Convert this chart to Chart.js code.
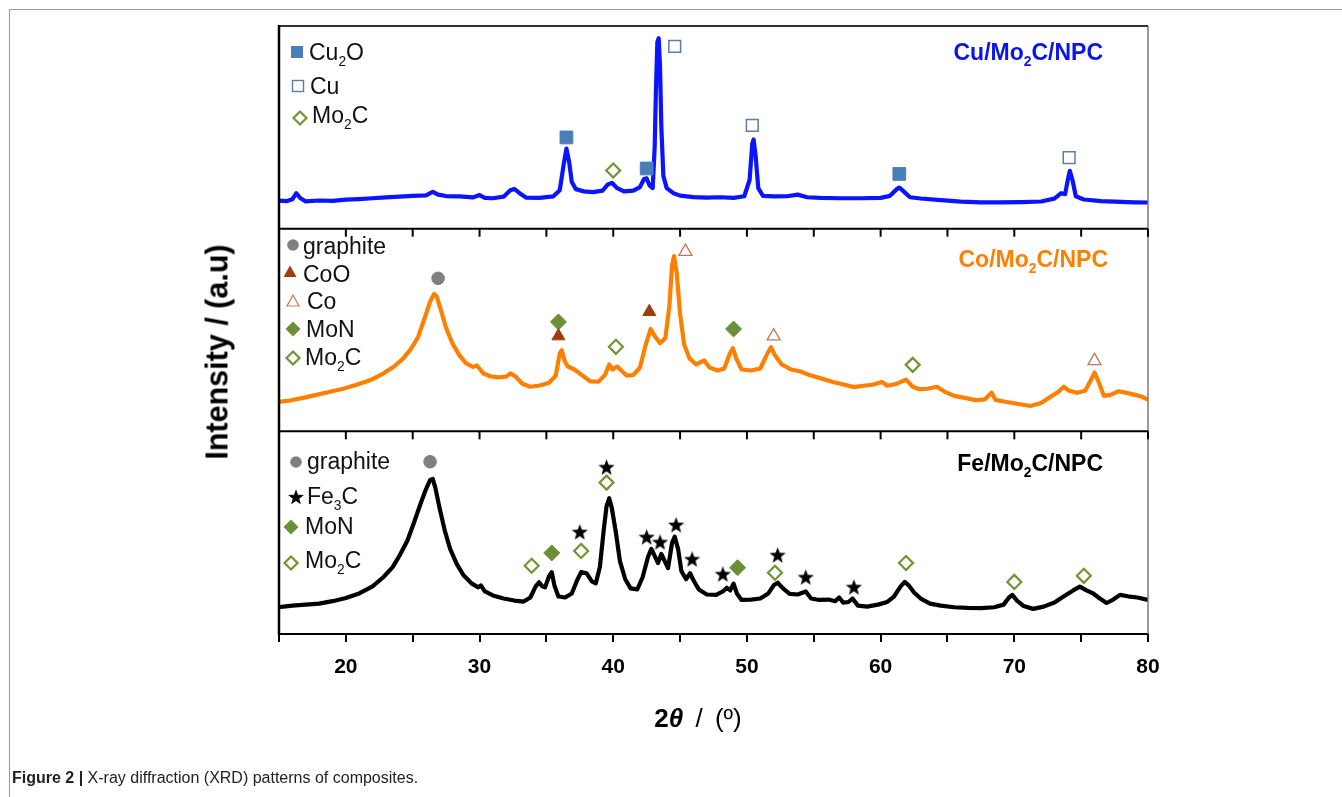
<!DOCTYPE html>
<html>
<head>
<meta charset="utf-8">
<script src="https://cdn.jsdelivr.net/npm/chart.js@4.4.1/dist/chart.umd.min.js"></script>
<style>
  html, body { margin: 0; padding: 0; background: #fff; }
  body { width: 1342px; height: 797px; position: relative; overflow: hidden; font-family: 'Liberation Sans', Arial, sans-serif; }
  #frame { position: absolute; left: 9px; top: 9px; width: 1340px; height: 800px; border-top: 1.5px solid #9a9a9a; border-left: 1.5px solid #9a9a9a; }
  #xrd { position: absolute; left: 0; top: 0; }
  .lbl { position: absolute; white-space: nowrap; font-size: 23px; line-height: 24px; color: #111; }
  .lbl sub, .sample sub { font-size: 0.6em; vertical-align: -0.4em; line-height: 0; }
  .sample { position: absolute; white-space: nowrap; font-size: 23px; line-height: 24px; font-weight: bold; }
  .mk { position: absolute; }
  #ytitle { position: absolute; left: 217px; top: 352px; transform: translate(-50%, -50%) rotate(-90deg); font-size: 30.5px; font-weight: bold; white-space: nowrap; color: #000; }
  #xtitle { position: absolute; left: 698px; top: 718px; transform: translate(-50%, -50%); font-size: 26px; white-space: nowrap; word-spacing: 5px; color: #000; }
  #caption { position: absolute; left: 12px; top: 768px; font-size: 16px; line-height: 20px; white-space: nowrap; color: #222; }
</style>
</head>
<body>
<div id="frame"></div>
<canvas id="xrd" width="1342" height="797"></canvas>
<div id="ytitle">Intensity / (a.u)</div>
<div id="xtitle"><b>2</b><b><i>θ</i></b> / (º)</div>
<div id="caption"><b>Figure 2 |</b> X-ray diffraction (XRD) patterns of composites.</div>
<div id="overlay"></div>
<script>
// x axis range and tick labels
const xMin = 15, xMax = 80, xStep = 5;
const xTickLabels = [20, 30, 40, 50, 60, 70, 80];

// Cu/Mo2C/NPC pattern
const cuAngle = [15.0, 15.6, 16.0, 16.3, 16.6, 17.0, 18.0, 19.0, 20.0, 21.0, 22.0, 23.0, 24.0, 25.0, 26.0, 26.5, 26.9, 27.5, 28.5, 29.5,
  30.0, 30.4, 31.0, 31.8, 32.3, 32.6, 33.0, 33.5, 34.5, 35.5, 36.0, 36.3, 36.5, 36.7, 36.9, 37.2, 37.8, 38.5, 39.2, 39.6,
  39.9, 40.3, 40.8, 41.5, 42.0, 42.3, 42.5, 42.7, 42.95, 43.1, 43.2, 43.3, 43.4, 43.5, 43.6, 43.75, 44.0, 44.5, 45.0, 46.0,
  47.0, 48.0, 49.0, 49.8, 50.2, 50.4, 50.5, 50.65, 50.85, 51.2, 52.0, 53.0, 53.8, 54.5, 55.5, 57.0, 58.5, 60.0, 60.7, 61.2,
  61.4, 61.7, 62.2, 63.0, 64.5, 66.0, 67.5, 69.0, 70.5, 72.0, 73.0, 73.5, 73.8, 74.0, 74.15, 74.35, 74.6, 75.2, 76.5, 78.0, 79.0, 80.0];
const cuIntensity = [13.8, 13.6, 14.5, 17.5, 15.0, 13.5, 13.9, 13.7, 14.3, 14.6, 15.0, 15.4, 15.8, 16.2, 16.4, 18.2, 16.8, 16.1, 15.9, 15.4,
  16.6, 15.2, 15.0, 15.8, 19.0, 19.6, 17.5, 15.3, 15.2, 15.9, 19.0, 32.0, 39.5, 33.0, 23.0, 19.5, 18.4, 18.0, 18.8, 21.8,
  22.6, 20.0, 18.4, 18.8, 20.5, 24.5, 24.8, 21.5, 20.0, 40.0, 70.0, 92.0, 94.0, 80.0, 50.0, 26.0, 20.0, 17.5, 16.3, 15.6,
  15.3, 15.5, 15.2, 16.0, 24.0, 42.0, 44.0, 36.0, 20.0, 16.2, 15.9, 16.0, 16.8, 15.5, 15.2, 15.0, 15.0, 15.2, 16.2, 19.5,
  20.3, 18.5, 15.5, 14.9, 14.1, 13.3, 13.0, 13.0, 13.1, 13.4, 14.8, 17.5, 17.0, 24.0, 28.5, 24.0, 16.0, 14.4, 13.6, 13.2, 13.0, 12.9];

// Co/Mo2C/NPC pattern
const coAngle = [15.0, 15.8, 16.8, 17.8, 18.8, 19.8, 20.8, 21.8, 22.8, 23.6, 24.3, 24.9, 25.4, 25.9, 26.3, 26.6, 26.8, 27.1, 27.5, 28.0,
  28.5, 29.0, 29.5, 29.8, 30.3, 30.8, 31.4, 32.0, 32.3, 32.7, 33.2, 33.8, 34.5, 35.2, 35.7, 36.0, 36.15, 36.35, 36.6, 37.1,
  37.7, 38.3, 38.9, 39.4, 39.7, 39.95, 40.3, 40.6, 41.0, 41.5, 42.0, 42.4, 42.8, 43.1, 43.5, 43.9, 44.2, 44.4, 44.55, 44.75,
  45.0, 45.3, 45.7, 46.2, 46.8, 47.2, 47.8, 48.3, 48.7, 48.95, 49.2, 49.6, 50.3, 51.0, 51.5, 51.8, 52.1, 52.6, 53.3, 54.0,
  54.8, 55.6, 56.5, 57.3, 58.0, 58.7, 59.4, 60.1, 60.5, 61.2, 61.9, 62.4, 62.9, 63.5, 64.2, 64.8, 65.5, 66.3, 67.1, 67.8,
  68.3, 68.6, 69.4, 70.3, 71.2, 72.0, 72.7, 73.3, 73.7, 74.1, 74.7, 75.3, 75.7, 76.0, 76.3, 76.7, 77.2, 77.8, 78.4, 79.0, 79.5, 80.0];
const coIntensity = [14.5, 15.2, 16.5, 18.0, 19.5, 21.0, 23.0, 25.2, 28.5, 32.0, 36.0, 41.0, 46.5, 56.0, 64.0, 67.8, 66.5, 60.0, 51.0, 43.0,
  37.5, 33.5, 31.8, 32.5, 28.5, 27.2, 26.6, 27.0, 28.6, 27.0, 23.5, 22.0, 22.6, 24.0, 27.5, 38.5, 40.0, 35.0, 32.0, 30.5,
  27.5, 24.6, 24.5, 28.0, 33.0, 30.5, 32.0, 30.0, 27.5, 27.8, 31.5, 42.0, 50.5, 47.0, 43.5, 46.0, 62.0, 82.0, 86.5, 78.0,
  58.0, 43.0, 36.0, 33.0, 35.0, 31.5, 30.0, 31.0, 38.0, 41.0, 36.0, 30.5, 30.0, 31.0, 38.0, 41.5, 37.5, 33.0, 30.5, 29.5,
  27.5, 26.0, 24.2, 23.0, 21.8, 22.5, 23.0, 24.3, 22.5, 23.5, 25.5, 22.0, 20.8, 21.0, 22.0, 19.5, 17.5, 16.5, 15.4, 15.8,
  19.0, 15.5, 14.5, 13.5, 12.5, 14.0, 17.0, 19.5, 22.0, 20.0, 19.0, 20.0, 25.0, 29.0, 24.5, 17.5, 18.0, 19.8, 19.0, 18.0, 17.2, 15.7];

// Fe/Mo2C/NPC pattern
const feAngle = [15.0, 16.0, 17.0, 18.0, 19.0, 20.0, 21.0, 22.0, 22.8, 23.5, 24.0, 24.6, 25.1, 25.6, 26.0, 26.3, 26.5, 26.7, 27.0, 27.4,
  27.8, 28.3, 28.8, 29.4, 29.9, 30.1, 30.4, 31.0, 31.8, 32.6, 33.3, 33.8, 34.2, 34.45, 34.7, 34.9, 35.2, 35.4, 35.6, 35.9,
  36.4, 36.9, 37.3, 37.6, 38.0, 38.4, 38.7, 39.0, 39.3, 39.5, 39.7, 39.9, 40.2, 40.5, 40.9, 41.3, 41.8, 42.2, 42.6, 42.85,
  43.1, 43.35, 43.6, 43.85, 44.1, 44.4, 44.6, 44.85, 45.1, 45.45, 45.75, 46.0, 46.4, 47.0, 47.7, 48.2, 48.5, 48.75, 49.0, 49.25,
  49.6, 50.3, 51.0, 51.6, 52.0, 52.3, 52.7, 53.2, 53.8, 54.4, 54.8, 55.4, 56.1, 56.6, 56.9, 57.2, 57.6, 57.9, 58.3, 59.0,
  59.8, 60.5, 61.0, 61.5, 61.8, 62.1, 62.5, 63.0, 63.7, 64.5, 65.5, 66.5, 67.5, 68.5, 69.2, 69.6, 69.85, 70.2, 70.7, 71.4,
  72.2, 73.0, 73.8, 74.4, 74.9, 75.4, 75.9, 76.4, 76.9, 77.4, 77.9, 78.5, 79.2, 80.0];
const feIntensity = [13.3, 14.0, 14.5, 15.0, 16.2, 17.8, 20.0, 23.5, 28.0, 33.0, 38.5, 46.0, 55.0, 64.5, 71.5, 76.0, 76.5, 72.0, 62.5, 51.0,
  42.0, 34.5, 29.0, 25.0, 23.0, 24.0, 21.0, 19.0, 17.5, 16.5, 16.0, 18.0, 23.5, 25.5, 23.5, 23.0, 28.5, 30.5, 24.0, 18.5,
  18.0, 20.0, 26.5, 30.5, 30.0, 26.0, 25.0, 33.0, 52.0, 63.0, 67.0, 62.0, 50.0, 36.0, 27.0, 22.5, 22.0, 28.0, 38.0, 42.0,
  38.5, 35.0, 39.5, 36.0, 32.5, 45.0, 48.0, 42.0, 31.0, 27.0, 30.0, 26.5, 22.0, 19.5, 19.3, 21.0, 22.8, 21.5, 24.8, 20.0,
  16.8, 17.0, 17.5, 20.0, 24.0, 25.3, 22.5, 19.8, 19.5, 21.0, 17.5, 16.8, 17.0, 16.2, 18.0, 15.5, 15.8, 17.5, 14.0, 13.5,
  14.5, 15.8, 18.5, 23.5, 25.7, 24.0, 20.5, 17.5, 15.0, 14.0, 13.2, 12.9, 12.8, 13.2, 14.5, 18.0, 19.3, 16.5, 13.8, 12.4,
  13.5, 15.5, 19.0, 21.5, 23.4, 21.5, 20.0, 17.5, 15.3, 17.0, 19.3, 18.6, 18.0, 16.8];

// phase markers: [2theta, height in panel units]
const cuMarksCu2O = [[36.5, 45], [42.5, 29.7], [61.4, 27]];
const cuMarksCu = [[44.6, 90], [50.4, 51], [74.1, 35]];
const cuMarksMo2C = [[40.0, 28.7]];

const coMarksGraphite = [[26.9, 75.5]];
const coMarksCoO = [[35.9, 47], [42.7, 59]];
const coMarksCo = [[45.4, 88.7], [52.0, 47], [76.0, 34.8]];
const coMarksMoN = [[35.9, 54], [49.0, 50.5]];
const coMarksMo2C = [[40.2, 41.7], [62.4, 32.8]];

const feMarksGraphite = [[26.3, 85]];
const feMarksFe3C = [[39.5, 82], [37.5, 50], [42.5, 47.5], [43.5, 45], [44.7, 53.5], [45.9, 36.6], [48.2, 29.2], [52.3, 38.6], [54.4, 27.7], [58.0, 22.8]];
const feMarksMoN = [[35.4, 40], [49.3, 32.7]];
const feMarksMo2C = [[39.5, 74.7], [33.9, 33.7], [37.6, 41], [52.1, 30.2], [61.9, 35], [70.0, 25.7], [75.2, 28.7]];

// filled five point star used for Fe3C
function makeStar(size, color) {
    const c = document.createElement('canvas');
    c.width = size; c.height = size;
    const g = c.getContext('2d');
    const r1 = size / 2, r2 = size * 0.21;
    g.beginPath();
    for (let i = 0; i < 10; i++) {
        const r = i % 2 ? r2 : r1;
        const a = -Math.PI / 2 + i * Math.PI / 5;
        g.lineTo(size / 2 + r * Math.cos(a), size / 2 + r * Math.sin(a));
    }
    g.closePath();
    g.fillStyle = color;
    g.fill();
    return c;
}

const phaseStyle = {
    Cu2O: { pointStyle: 'rect', pointRadius: 9, pointBackgroundColor: '#4a7ebb', pointBorderColor: '#4a7ebb', pointBorderWidth: 1 },
    Cu: { pointStyle: 'rect', pointRadius: 8.3, pointBackgroundColor: '#fff', pointBorderColor: '#5d7ca6', pointBorderWidth: 1.5 },
    Mo2C: { pointStyle: 'rectRot', pointRadius: 7, pointBackgroundColor: '#fff', pointBorderColor: '#6f9535', pointBorderWidth: 2.2 },
    MoN: { pointStyle: 'rectRot', pointRadius: 8, pointBackgroundColor: '#6b8f36', pointBorderColor: '#6b8f36', pointBorderWidth: 1 },
    graphite: { pointStyle: 'circle', pointRadius: 6.3, pointBackgroundColor: '#808080', pointBorderColor: '#808080', pointBorderWidth: 1 },
    CoO: { pointStyle: 'triangle', pointRadius: 7.5, pointBackgroundColor: '#9c3f0c', pointBorderColor: '#9c3f0c', pointBorderWidth: 1 },
    Co: { pointStyle: 'triangle', pointRadius: 7.5, pointBackgroundColor: '#fff', pointBorderColor: '#c07a55', pointBorderWidth: 1.3 },
    Fe3C: { pointStyle: makeStar(17, '#000'), pointRadius: 8 }
};

function pts(a, b) { return a.map((v, i) => ({ x: v, y: b[i] })); }

function markSet(list, phase, axis) {
    return Object.assign({
        label: phase, data: list.map(p => ({ x: p[0], y: p[1] })), yAxisID: axis,
        showLine: false, order: 0, pointHoverRadius: 0
    }, phaseStyle[phase]);
}

function trace(label, a, b, axis, color) {
    return {
        label: label, data: pts(a, b), yAxisID: axis, borderColor: color, borderWidth: 4.2,
        pointRadius: 0, tension: 0, order: 10, borderJoinStyle: 'round', fill: false
    };
}

function panelAxis() {
    return {
        type: 'linear', position: 'left', stack: 'xrd', stackWeight: 1, min: 0, max: 100,
        ticks: { display: false }, grid: { display: false, drawTicks: false }, border: { display: false }
    };
}

// panel frames and inner top ticks
const framePlugin = {
    id: 'frames',
    afterDraw(chart) {
        const { ctx, chartArea, scales } = chart;
        const { left, right, top, bottom } = chartArea;
        const line = (x1, y1, x2, y2) => { ctx.beginPath(); ctx.moveTo(x1, y1); ctx.lineTo(x2, y2); ctx.stroke(); };
        ctx.save();
        ctx.strokeStyle = '#7a7a7a'; ctx.lineWidth = 1.5;
        line(right, top, right, bottom);
        ctx.strokeStyle = '#333'; ctx.lineWidth = 2;
        line(left, top, right, top);
        ctx.strokeStyle = '#000';
        ['yCo', 'yFe'].forEach(id => {
            const y = scales[id].top;
            ctx.lineWidth = 2;
            line(left, y, right, y);
            scales.x.ticks.forEach(t => {
                if (t.value <= xMin) return;
                const x = scales.x.getPixelForValue(t.value);
                line(x, y, x, y + 8);
            });
        });
        ctx.lineWidth = 2.5;
        line(left, top - 1, left, bottom + 1);
        ctx.restore();
    }
};

const tickFont = { family: "'Liberation Sans', Arial, sans-serif", size: 21, weight: 'bold' };

new Chart(document.getElementById('xrd'), {
    type: 'line',
    data: {
        datasets: [
            trace('Cu/Mo2C/NPC', cuAngle, cuIntensity, 'yCu', '#0a14ff'),
            trace('Co/Mo2C/NPC', coAngle, coIntensity, 'yCo', '#ff8000'),
            trace('Fe/Mo2C/NPC', feAngle, feIntensity, 'yFe', '#000'),
            markSet(cuMarksCu2O, 'Cu2O', 'yCu'),
            markSet(cuMarksCu, 'Cu', 'yCu'),
            markSet(cuMarksMo2C, 'Mo2C', 'yCu'),
            markSet(coMarksGraphite, 'graphite', 'yCo'),
            markSet(coMarksCoO, 'CoO', 'yCo'),
            markSet(coMarksCo, 'Co', 'yCo'),
            markSet(coMarksMoN, 'MoN', 'yCo'),
            markSet(coMarksMo2C, 'Mo2C', 'yCo'),
            markSet(feMarksGraphite, 'graphite', 'yFe'),
            markSet(feMarksFe3C, 'Fe3C', 'yFe'),
            markSet(feMarksMoN, 'MoN', 'yFe'),
            markSet(feMarksMo2C, 'Mo2C', 'yFe')
        ]
    },
    options: {
        responsive: false,
        animation: false,
        devicePixelRatio: 1,
        layout: { padding: { left: 279, right: 194, top: 26, bottom: 119 } },
        plugins: { legend: { display: false }, tooltip: { enabled: false } },
        scales: {
            x: {
                type: 'linear', position: 'bottom', min: xMin, max: xMax,
                ticks: {
                    stepSize: xStep, autoSkip: false, maxRotation: 0, padding: 13, color: '#000', font: tickFont,
                    callback: v => xTickLabels.includes(v) ? String(v) : ''
                },
                grid: { drawOnChartArea: false, drawTicks: true, tickLength: 8, color: '#000', lineWidth: 2 },
                border: { display: true, color: '#000', width: 2 },
                afterFit: s => { s.height = 44; }
            },
            // stacked panels: the last one listed is placed on top
            yFe: panelAxis(),
            yCo: panelAxis(),
            yCu: panelAxis()
        }
    },
    plugins: [framePlugin]
});

// in-panel legends and sample names
function svgMarker(kind) {
    const s = 18, c = 9;
    let body = '';
    if (kind === 'Cu2O') body = '<rect x="3" y="3" width="12" height="12" fill="#4a7ebb"/>';
    if (kind === 'Cu') body = '<rect x="3.5" y="3.5" width="11" height="11" fill="#fff" stroke="#5d7ca6" stroke-width="1.4"/>';
    if (kind === 'Mo2C') body = '<polygon points="9,2.5 15.5,9 9,15.5 2.5,9" fill="#fff" stroke="#6f9535" stroke-width="2.2"/>';
    if (kind === 'MoN') body = '<polygon points="9,1.5 16.5,9 9,16.5 1.5,9" fill="#6b8f36"/>';
    if (kind === 'graphite') body = '<circle cx="9" cy="9" r="5.8" fill="#808080"/>';
    if (kind === 'CoO') body = '<polygon points="9,2.5 15.5,14 2.5,14" fill="#9c3f0c"/>';
    if (kind === 'Co') body = '<polygon points="9,3 15,14 3,14" fill="#fff" stroke="#c07a55" stroke-width="1.2"/>';
    if (kind === 'Fe3C') {
        let p = [];
        for (let i = 0; i < 10; i++) {
            const r = i % 2 ? 3.4 : 8.3, a = -Math.PI / 2 + i * Math.PI / 5;
            p.push((c + r * Math.cos(a)).toFixed(2) + ',' + (c + 0.6 + r * Math.sin(a)).toFixed(2));
        }
        body = '<polygon points="' + p.join(' ') + '" fill="#000"/>';
    }
    return '<svg width="' + s + '" height="' + s + '" viewBox="0 0 18 18">' + body + '</svg>';
}

const legendRows = [
    { kind: 'Cu2O', text: 'Cu<sub>2</sub>O', mx: 297, my: 52, tx: 309, ty: 52 },
    { kind: 'Cu', text: 'Cu', mx: 298, my: 86, tx: 310, ty: 86 },
    { kind: 'Mo2C', text: 'Mo<sub>2</sub>C', mx: 300, my: 118, tx: 312, ty: 115 },
    { kind: 'graphite', text: 'graphite', mx: 293, my: 245, tx: 303, ty: 246 },
    { kind: 'CoO', text: 'CoO', mx: 290, my: 272, tx: 303, ty: 274 },
    { kind: 'Co', text: 'Co', mx: 293, my: 301, tx: 307, ty: 301 },
    { kind: 'MoN', text: 'MoN', mx: 293, my: 329, tx: 306, ty: 329 },
    { kind: 'Mo2C', text: 'Mo<sub>2</sub>C', mx: 293, my: 358, tx: 305, ty: 357 },
    { kind: 'graphite', text: 'graphite', mx: 296, my: 462, tx: 307, ty: 461 },
    { kind: 'Fe3C', text: 'Fe<sub>3</sub>C', mx: 296, my: 497, tx: 307, ty: 496 },
    { kind: 'MoN', text: 'MoN', mx: 291, my: 527, tx: 305, ty: 526 },
    { kind: 'Mo2C', text: 'Mo<sub>2</sub>C', mx: 291, my: 563, tx: 305, ty: 560 }
];

const sampleNames = [
    { text: 'Cu/Mo<sub>2</sub>C/NPC', color: '#0a14f0', right: 1103, cy: 52 },
    { text: 'Co/Mo<sub>2</sub>C/NPC', color: '#ff8000', right: 1108, cy: 259 },
    { text: 'Fe/Mo<sub>2</sub>C/NPC', color: '#000', right: 1103, cy: 463 }
];

const overlay = document.getElementById('overlay');
let html = '';
legendRows.forEach(r => {
    html += '<div class="mk" style="left:' + (r.mx - 9) + 'px;top:' + (r.my - 9) + 'px">' + svgMarker(r.kind) + '</div>';
    html += '<div class="lbl" style="left:' + r.tx + 'px;top:' + (r.ty - 11.7) + 'px">' + r.text + '</div>';
});
sampleNames.forEach(s => {
    html += '<div class="sample" style="right:' + (1342 - s.right) + 'px;top:' + (s.cy - 11.7) + 'px;color:' + s.color + '">' + s.text + '</div>';
});
overlay.innerHTML = html;
</script>
</body>
</html>
